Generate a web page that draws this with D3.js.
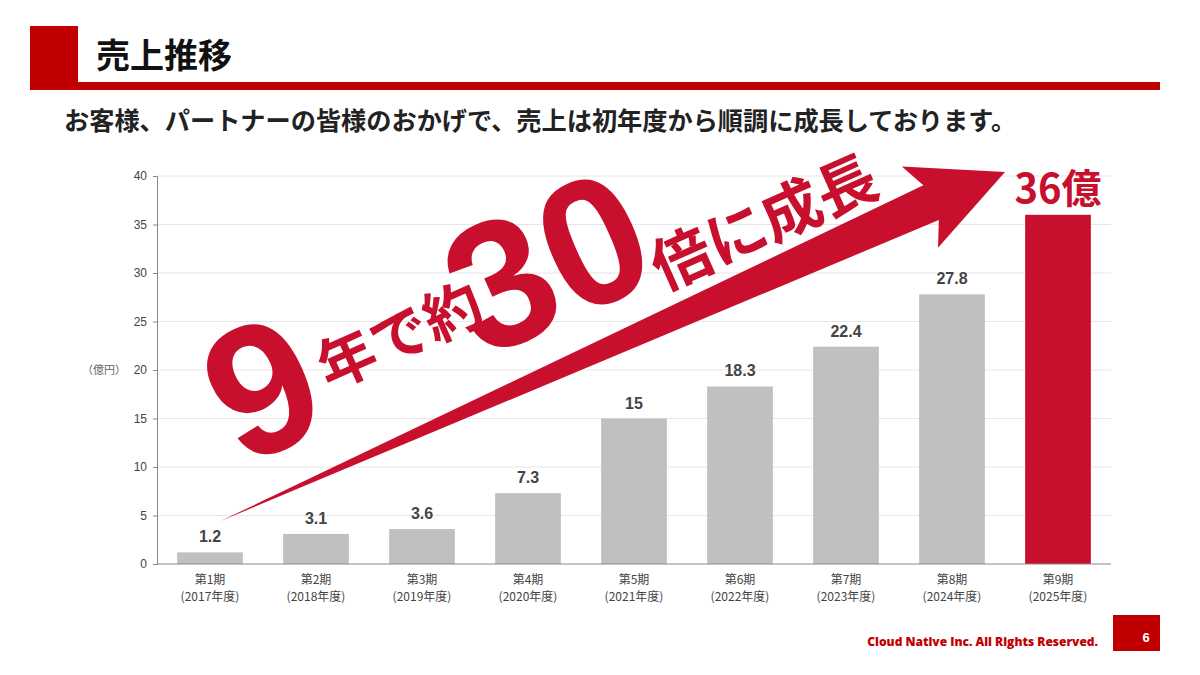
<!DOCTYPE html>
<html><head><meta charset="utf-8">
<script src="https://cdn.jsdelivr.net/npm/d3@7"></script>
<style>body{margin:0;background:#fff}svg{display:block}</style>
</head><body>
<svg id="c" width="1200" height="675"></svg>
<script>
const periods = ["第1期", "第2期", "第3期", "第4期", "第5期", "第6期", "第7期", "第8期", "第9期"];
const years = ["(2017年度)", "(2018年度)", "(2019年度)", "(2020年度)", "(2021年度)", "(2022年度)", "(2023年度)", "(2024年度)", "(2025年度)"];
const sales = [1.2, 3.1, 3.6, 7.3, 15, 18.3, 22.4, 27.8, 36];
const yTicks = [0, 5, 10, 15, 20, 25, 30, 35, 40];

const RED = "#c00000", ACC = "#c8102e";
const JP = "'Noto Sans CJK JP', sans-serif";
const svg = d3.select("#c");

// header
svg.append("rect").attr("x", 30).attr("y", 26).attr("width", 48).attr("height", 64).attr("fill", RED);
svg.append("rect").attr("x", 30).attr("y", 82).attr("width", 1130).attr("height", 8).attr("fill", RED);
svg.append("text").attr("x", 96).attr("y", 68).attr("font-family", JP).attr("font-weight", 700)
  .attr("font-size", 34).attr("fill", "#111").text("売上推移");
svg.append("text").attr("x", 64).attr("y", 130).attr("font-family", JP).attr("font-weight", 700)
  .attr("font-size", 25.2).attr("fill", "#222")
  .text("お客様、パートナーの皆様のおかげで、売上は初年度から順調に成長しております。");

const x = d3.scaleBand().domain(periods).range([157, 1111]).paddingInner(0.38).paddingOuter(0.19);
const y = d3.scaleLinear().domain([0, 40]).range([564, 176]);

// grid
svg.append("g").selectAll("line").data(yTicks.slice(1)).join("line")
  .attr("x1", 157).attr("x2", 1111).attr("y1", d => y(d)).attr("y2", d => y(d))
  .attr("stroke", "#e6e6e6");

const ya = svg.append("g").attr("transform", "translate(157,0)")
  .call(d3.axisLeft(y).tickValues(yTicks).tickSize(4).tickPadding(6));
ya.select(".domain").attr("stroke", "#888");
ya.selectAll("line").attr("stroke", "#888");
ya.selectAll("text").attr("font-family", "Arial, 'Liberation Sans'").attr("font-size", 12).attr("fill", "#444");
svg.append("text").attr("x", 82).attr("y", 374).attr("font-family", JP).attr("font-size", 11)
  .attr("fill", "#666").text("（億円）");

// bars
svg.append("g").selectAll("rect").data(sales).join("rect")
  .attr("x", (d, i) => x(periods[i])).attr("width", x.bandwidth())
  .attr("y", d => y(d)).attr("height", d => y(0) - y(d))
  .attr("fill", (d, i) => i === sales.length - 1 ? ACC : "#c0c0c0");

svg.append("line").attr("x1", 157).attr("x2", 1111).attr("y1", 564).attr("y2", 564).attr("stroke", "#888");

svg.append("g").selectAll("text").data(sales.slice(0, -1)).join("text")
  .attr("x", (d, i) => x(periods[i]) + x.bandwidth() / 2).attr("y", d => y(d) - 10)
  .attr("text-anchor", "middle").attr("font-family", "Arial, 'Liberation Sans'").attr("font-weight", 700)
  .attr("font-size", 16).attr("fill", "#444").text(d => d);
const last = sales.length - 1;
svg.append("text").attr("x", x(periods[last]) + x.bandwidth() / 2).attr("y", y(sales[last]) - 12)
  .attr("text-anchor", "middle").attr("font-family", JP).attr("font-weight", 700)
  .attr("font-size", 40).attr("fill", ACC).text(sales[last] + "億");

const xl = svg.append("g").selectAll("text").data(periods).join("text")
  .attr("text-anchor", "middle").attr("font-family", JP).attr("font-size", 12).attr("fill", "#444");
xl.append("tspan").attr("x", d => x(d) + x.bandwidth() / 2).attr("y", 584).text(d => d);
xl.append("tspan").attr("x", d => x(d) + x.bandwidth() / 2).attr("y", 601).text((d, i) => years[i]);

// arrow (wedge) from above the first bar label to the last bar
const x0 = x(periods[0]) + x.bandwidth() / 2 + 10, y0 = y(sales[0]) - 31;
const x1 = 1005, y1 = 172;
const ang = Math.atan2(y1 - y0, x1 - x0) * 180 / Math.PI;
const L = Math.hypot(x1 - x0, y1 - y0);
svg.append("path")
  .attr("transform", `translate(${x0},${y0}) rotate(${ang})`)
  .attr("d", `M0,0 L${L - 80},-21 L${L - 92},-47 L${L},0 L${L - 92},42 L${L - 80},17 Z`)
  .attr("fill", ACC);

function rot(t, cx, cy, size, fam) {
  svg.append("text").attr("transform", `translate(${cx},${cy}) rotate(${ang})`)
    .attr("text-anchor", "middle").attr("dominant-baseline", "central").attr("font-family", fam)
    .attr("font-weight", 700).attr("font-size", size).attr("fill", ACC).text(t);
}
const NUM = "Arial, 'Liberation Sans', sans-serif";
rot("9", 262, 388, 185, NUM);
rot("年で約", 398, 332, 58, JP);
rot("30", 547, 262, 180, NUM);
rot("倍に成長", 762, 218, 60, JP);

// footer
svg.append("text").attr("x", 1098).attr("y", 646).attr("text-anchor", "end").attr("font-family", "'Open Sans', sans-serif")
  .attr("font-weight", 800).attr("font-size", 12).attr("fill", RED).text("Cloud Native Inc. All Rights Reserved.");
svg.append("rect").attr("x", 1113).attr("y", 615).attr("width", 47).attr("height", 36).attr("fill", RED);
svg.append("text").attr("x", 1146).attr("y", 642).attr("text-anchor", "middle").attr("font-family", "Arial, 'Liberation Sans'")
  .attr("font-weight", 700).attr("font-size", 13).attr("fill", "#fff").text("6");
</script>
</body></html>
